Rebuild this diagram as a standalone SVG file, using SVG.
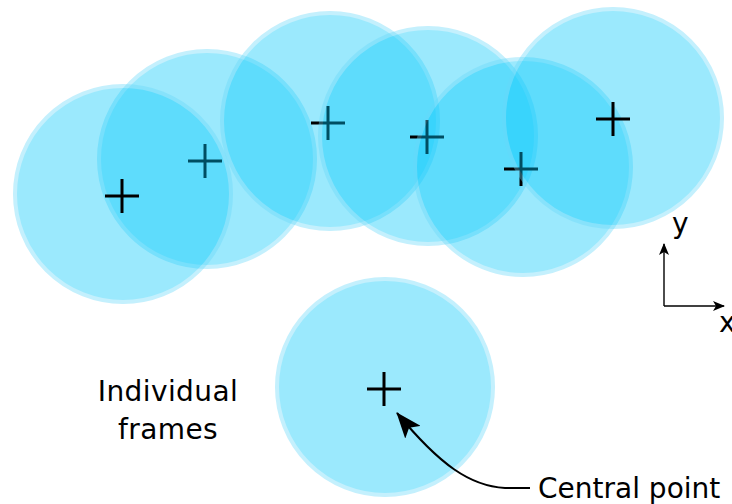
<svg xmlns="http://www.w3.org/2000/svg" width="732" height="504" viewBox="0 0 732 504">
<defs>
<style>
.c{fill:#00c8fc;stroke:#68d9fa;stroke-width:4;opacity:0.39}
.x{stroke:#000;stroke-width:3;fill:none}
.t{font-family:"DejaVu Sans",Verdana,sans-serif;font-size:28px;fill:#000}
.ax{stroke:#000;stroke-width:1.4;fill:none}
</style>
<marker id="ah" viewBox="0 0 12 10" refX="11" refY="5" markerWidth="12" markerHeight="10" markerUnits="userSpaceOnUse" orient="auto">
<path d="M0,0 L12,5 L0,10 L3,5 Z" fill="#000"/>
</marker>
<marker id="big" viewBox="0 0 26 20" refX="25" refY="10" markerWidth="26" markerHeight="20" markerUnits="userSpaceOnUse" orient="auto">
<path d="M0,0 L26,10 L0,20 L6,10 Z" fill="#000"/>
</marker>
</defs>
<g id="frame2"><circle class="c" cx="207" cy="159" r="108"/><path class="x" d="M188,161 H222 M205,144 V178"/></g>
<g id="frame1"><circle class="c" cx="123" cy="194" r="108"/><path class="x" d="M105,196 H139 M122,179 V213"/></g>
<g id="frame3"><circle class="c" cx="330" cy="121" r="108"/><path class="x" d="M311,123 H345 M328,106 V140"/></g>
<g id="frame4"><circle class="c" cx="428" cy="136" r="108"/><path class="x" d="M410,137 H444 M427,120 V154"/></g>
<g id="frame5"><circle class="c" cx="523" cy="167" r="108"/><path class="x" d="M504,169 H538 M521,152 V186"/></g>
<g id="frame6"><circle class="c" cx="613" cy="118" r="109"/><path class="x" d="M596,119 H630 M613,102 V136"/></g>
<g id="frame7"><circle class="c" cx="385" cy="387" r="108"/><path class="x" d="M367,389 H401 M384,372 V406"/></g>
<g id="axes">
<path class="ax" d="M664,306 V244" marker-end="url(#ah)"/>
<path class="ax" d="M664,306 H724" marker-end="url(#ah)"/>
<text class="t" x="672" y="233">y</text>
<text class="t" x="719" y="332">x</text>
</g>
<g id="labels">
<text class="t" x="168" y="401" text-anchor="middle" letter-spacing="0.4">Individual</text>
<text class="t" x="168" y="439" text-anchor="middle" letter-spacing="0.4">frames</text>
<text class="t" x="538" y="498">Central point</text>
</g>
<g id="connectors">
<path d="M530,488 H505 C470,486 440,465 397,413" stroke="#000" stroke-width="2" fill="none" marker-end="url(#big)"/>
</g>
</svg>
